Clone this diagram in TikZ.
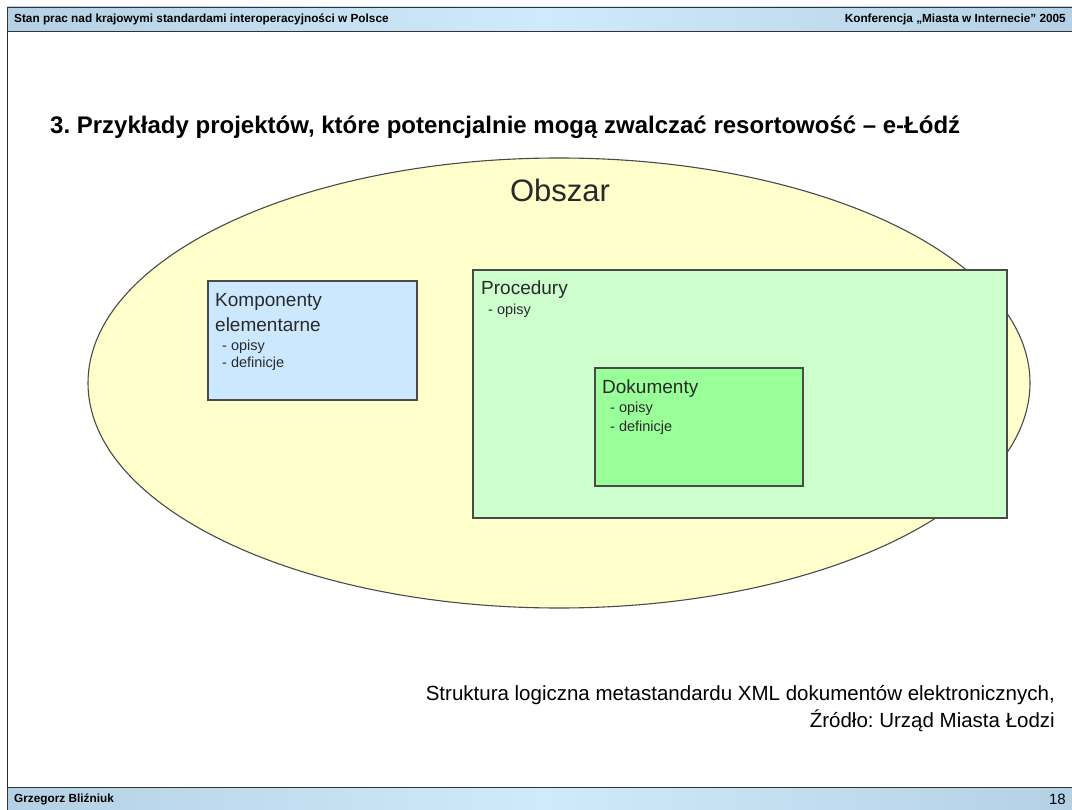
\documentclass[tikz,border=0pt]{standalone}
\usepackage{fontspec}
\setmainfont{Liberation Sans}
\usetikzlibrary{shadows}
\frenchspacing
\definecolor{barmid}{HTML}{CFEAFA}
\definecolor{baredge}{HTML}{B4D0E4}
\definecolor{ovalfill}{HTML}{FFFFCC}
\definecolor{blueboxfill}{HTML}{CCE8FF}
\definecolor{lightgreen}{HTML}{CCFFCC}
\definecolor{midgreen}{HTML}{99FF99}
\definecolor{framegray}{HTML}{4A4A4A}
\definecolor{txt}{HTML}{2A2A2A}
\begin{document}
\begin{tikzpicture}[x=1pt,y=-1pt,
  bar/.style={draw=black!80, line width=0.9pt, left color=baredge, right color=baredge, middle color=barmid, shading angle=90},
  bartext/.style={font=\bfseries\fontsize{11.8}{13}\selectfont, inner sep=0pt},
  box/.style={draw=framegray, line width=1.1pt, drop shadow={shadow xshift=1pt, shadow yshift=-1pt, opacity=0.35}},
  head/.style={anchor=west, inner sep=0pt, text=txt, font=\fontsize{19}{22}\selectfont},
  item/.style={anchor=west, inner sep=0pt, text=txt, font=\fontsize{14.5}{17}\selectfont}]
\useasboundingbox (0,0) rectangle (1072,810);
\fill[white] (0,0) rectangle (1072,810);

% page frame: header bar, left rule, footer bar
\path[bar] (7,7) rectangle (1074,31);
\draw[black!85, line width=1pt] (7,31) -- (7,787);
\path[bar] (7,787) rectangle (1074,812);
\node[bartext, anchor=west] (hdrL) at (14,19) {Stan prac nad krajowymi standardami interoperacyjności w Polsce};
\node[bartext, anchor=east] (hdrR) at (1066,19) {Konferencja „Miasta w Internecie” 2005};
\node[bartext, anchor=west] (ftrL) at (14,799) {Grzegorz Bliźniuk};
\node[inner sep=0pt, anchor=east, font=\fontsize{15}{16}\selectfont] (ftrR) at (1066,799) {18};

% slide title
\node[anchor=west, inner sep=0pt, font=\bfseries\fontsize{24}{28}\selectfont] (title) at (50,127)
  {3. Przykłady projektów, które potencjalnie mogą zwalczać resortowość – e-Łódź};

% outer area
\draw[fill=ovalfill, draw=framegray, line width=1.1pt] (559,383) ellipse [x radius=471, y radius=225];
\node[inner sep=0pt, text=txt, font=\fontsize{31}{35}\selectfont] (obszar) at (560,190) {Obszar};

% elementary components
\draw[box, fill=blueboxfill] (208,281) rectangle (417,400);
\node[head] (komp1) at (215,302) {Komponenty};
\node[head] (komp2) at (215,325) {elementarne};
\node[item] (komp3) at (222,347) {- opisy};
\node[item] (komp4) at (222,364) {- definicje};

% procedures
\draw[box, fill=lightgreen] (473,270) rectangle (1007,518);
\node[head] (proc1) at (481,290) {Procedury};
\node[item] (proc2) at (488,311) {- opisy};

% documents
\draw[box, fill=midgreen] (595,368) rectangle (803,486);
\node[head] (dok1) at (602,389) {Dokumenty};
\node[item] (dok2) at (610,409) {- opisy};
\node[item] (dok3) at (610,428) {- definicje};

% source caption
\node[anchor=east, inner sep=0pt, font=\fontsize{20.5}{24}\selectfont] (cap1) at (1055,695)
  {Struktura logiczna metastandardu XML dokumentów elektronicznych,};
\node[anchor=east, inner sep=0pt, font=\fontsize{20.5}{24}\selectfont] (cap2) at (1055,721)
  {Źródło: Urząd Miasta Łodzi};
\end{tikzpicture}
\end{document}
